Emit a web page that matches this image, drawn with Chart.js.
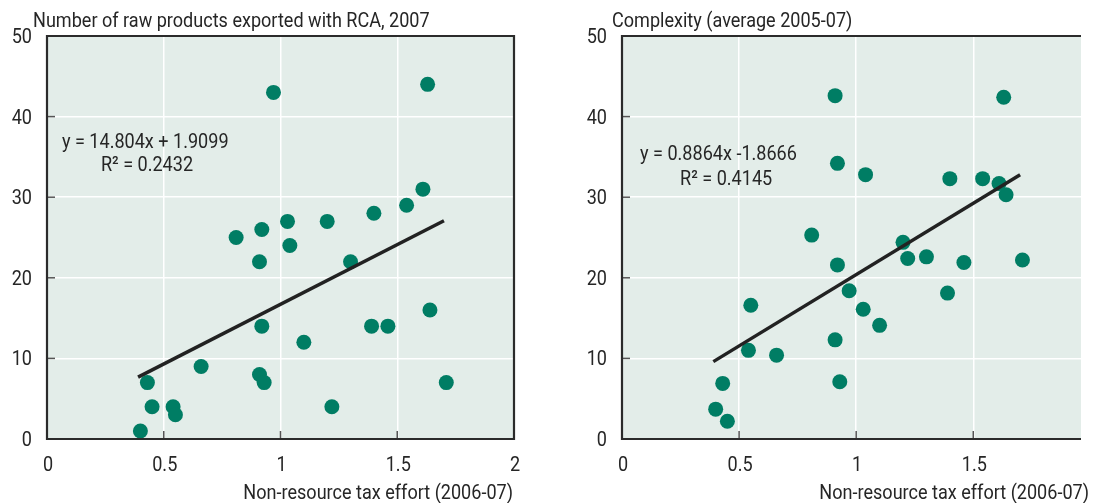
<!DOCTYPE html>
<html>
<head>
<meta charset="utf-8">
<script src="https://cdn.jsdelivr.net/npm/chart.js@4.4.1/dist/chart.umd.min.js"></script>
<style>
  html, body { margin: 0; padding: 0; background: #fff; }
  #wrap { position: relative; width: 1094px; height: 503px; overflow: hidden; }
  .panel { position: absolute; top: 0; width: 547px; height: 503px; }
  #left { left: 0; }
  #right { left: 547px; }
</style>
</head>
<body>
<div id="wrap">
  <div class="panel" id="left"><canvas id="rawChart" width="547" height="503"></canvas></div>
  <div class="panel" id="right"><canvas id="complexChart" width="547" height="503"></canvas></div>
</div>
<script>
// Tax effort vs. number of raw products exported with RCA (2007)
const rawTaxEffort = [0.97, 1.63, 1.61, 1.54, 1.40, 1.20, 1.03, 0.92, 0.81, 1.04,
                      0.91, 1.30, 1.64, 1.39, 1.46, 0.92, 1.10, 0.66, 0.91, 0.93,
                      1.71, 0.43, 0.45, 0.54, 0.55, 1.22, 0.40];
const rawProducts  = [43, 44, 31, 29, 28, 27, 27, 26, 25, 24,
                      22, 22, 16, 14, 14, 14, 12, 9, 8, 7,
                      7, 7, 4, 4, 3, 4, 1];
const rawFitSlope = 14.804;
const rawFitIntercept = 1.9099;
const rawFitRange = [0.39, 1.70];

// Tax effort vs. export complexity (average 2005-07)
const cxTaxEffort  = [0.91, 1.63, 0.92, 1.04, 1.40, 1.54, 1.61, 1.64, 0.81, 1.20,
                      1.22, 1.30, 1.46, 1.71, 0.92, 0.97, 1.39, 0.55, 1.03, 1.10,
                      0.91, 0.54, 0.66, 0.93, 0.43, 0.40, 0.45];
const cxComplexity = [42.6, 42.4, 34.2, 32.8, 32.3, 32.3, 31.7, 30.3, 25.3, 24.4,
                      22.4, 22.6, 21.9, 22.2, 21.6, 18.4, 18.1, 16.6, 16.1, 14.1,
                      12.3, 11.0, 10.4, 7.1, 6.9, 3.7, 2.2];
const cxFitX = [0.39, 1.70];
const cxFitY = [9.6, 32.8];

const yTicks = [0, 10, 20, 30, 40, 50];
const xTicks = [0, 0.5, 1, 1.5, 2];

const FONT = '21px Roboto, "DejaVu Sans Condensed", sans-serif';
const SQUEEZE = 0.86;   // narrow the glyphs to a condensed look
const TEXT = '#262626';
const DOT = '#007d64';
const PLOT_BG = '#e3ede9';

function squeezedText(ctx, str, x, y, align) {
  ctx.save();
  ctx.translate(x, y);
  ctx.scale(SQUEEZE, 1);
  ctx.textAlign = align;
  ctx.fillText(str, 0, 0);
  ctx.restore();
}

// background, inner tick marks, frame and all text
const framePlugin = {
  id: 'frame',
  beforeDraw(chart) {
    const { ctx, chartArea: a } = chart;
    ctx.save();
    ctx.fillStyle = PLOT_BG;
    ctx.fillRect(a.left, a.top, a.right - a.left, a.bottom - a.top);
    ctx.restore();
  },
  beforeDatasetsDraw(chart) {
    const { ctx, chartArea: a, scales } = chart;
    ctx.save();
    ctx.strokeStyle = '#555';
    ctx.lineWidth = 1.5;
    scales.y.ticks.forEach(t => {
      const py = scales.y.getPixelForValue(t.value);
      ctx.beginPath(); ctx.moveTo(a.left, py); ctx.lineTo(a.left + 8, py); ctx.stroke();
    });
    scales.x.ticks.forEach(t => {
      const px = scales.x.getPixelForValue(t.value);
      ctx.beginPath(); ctx.moveTo(px, a.bottom); ctx.lineTo(px, a.bottom - 8); ctx.stroke();
    });
    ctx.restore();
  },
  afterDraw(chart, args, opts) {
    const { ctx, chartArea: a, scales } = chart;
    ctx.save();
    ctx.strokeStyle = '#2b2b2b';
    ctx.lineWidth = 2.2;
    ctx.beginPath();
    if (opts.closed) {
      ctx.rect(a.left, a.top, a.right - a.left, a.bottom - a.top);
    } else {
      ctx.moveTo(a.right, a.top); ctx.lineTo(a.left, a.top);
      ctx.lineTo(a.left, a.bottom); ctx.lineTo(a.right, a.bottom);
    }
    ctx.stroke();

    ctx.fillStyle = TEXT;
    ctx.font = FONT;
    ctx.textBaseline = 'alphabetic';

    // tick labels
    scales.y.ticks.forEach(t => {
      squeezedText(ctx, String(t.value), a.left - 15, scales.y.getPixelForValue(t.value) + 7, 'right');
    });
    scales.x.ticks.forEach(t => {
      squeezedText(ctx, String(t.value), scales.x.getPixelForValue(t.value) + 1, 471, 'center');
    });

    // titles
    squeezedText(ctx, opts.title, opts.titleX, 27, 'left');
    squeezedText(ctx, 'Non-resource tax effort (2006-07)', a.right + opts.axisTitleShift, 499, 'right');

    // regression notes
    opts.notes.forEach(n => {
      squeezedText(ctx, n.text, scales.x.getPixelForValue(n.x), scales.y.getPixelForValue(n.y), 'left');
    });
    ctx.restore();
  }
};

function makeChart(id, xs, ys, fitX, fitY, xMax, yWidth, padRight, frameOpts) {
  const points = xs.map((x, i) => ({ x: x, y: ys[i] }));
  const fit = fitX.map((x, i) => ({ x: x, y: fitY[i] }));
  return new Chart(document.getElementById(id), {
    type: 'scatter',
    data: {
      datasets: [
        {
          type: 'line',
          data: fit,
          borderColor: '#222',
          borderWidth: 3.5,
          pointRadius: 0,
          fill: false,
          order: 0
        },
        {
          data: points,
          backgroundColor: DOT,
          borderWidth: 0,
          pointRadius: 7.5,
          pointHoverRadius: 7.5,
          order: 1
        }
      ]
    },
    options: {
      responsive: false,
      animation: false,
      devicePixelRatio: 1,
      layout: { padding: { left: 0, right: padRight, top: 36, bottom: 0 } },
      plugins: {
        legend: { display: false },
        tooltip: { enabled: false },
        frame: frameOpts
      },
      scales: {
        x: {
          type: 'linear',
          min: 0,
          max: xMax,
          afterBuildTicks: s => { s.ticks = xTicks.filter(v => v <= xMax).map(v => ({ value: v })); },
          afterFit: s => { s.height = 64; },
          grid: { color: '#ffffff', lineWidth: 1.5, drawTicks: false },
          border: { display: false },
          ticks: { display: false }
        },
        y: {
          type: 'linear',
          min: 0,
          max: 50,
          afterBuildTicks: s => { s.ticks = yTicks.map(v => ({ value: v })); },
          afterFit: s => { s.width = yWidth; },
          grid: { color: '#ffffff', lineWidth: 1.5, drawTicks: false },
          border: { display: false },
          ticks: { display: false }
        }
      }
    },
    plugins: [framePlugin]
  });
}

makeChart('rawChart', rawTaxEffort, rawProducts,
  rawFitRange, rawFitRange.map(x => rawFitSlope * x + rawFitIntercept),
  2, 47, 33, {
    closed: true,
    title: 'Number of raw products exported with RCA, 2007',
    titleX: 33,
    axisTitleShift: -1,
    notes: [
      { text: 'y = 14.804x + 1.9099', x: 0.064, y: 36.1 },
      { text: 'R\u00b2 = 0.2432', x: 0.231, y: 33.3 }
    ]
  });

makeChart('complexChart', cxTaxEffort, cxComplexity,
  cxFitX, cxFitY,
  1.96, 75, 13, {
    closed: false,
    title: 'Complexity (average 2005-07)',
    titleX: 65,
    axisTitleShift: 8,
    notes: [
      { text: 'y = 0.8864x -1.8666', x: 0.077, y: 34.6 },
      { text: 'R\u00b2 = 0.4145', x: 0.248, y: 31.5 }
    ]
  });
</script>
</body>
</html>
